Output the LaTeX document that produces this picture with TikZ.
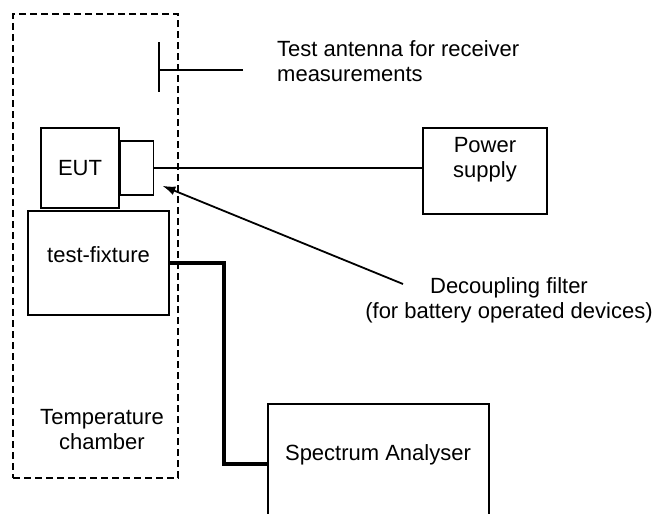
\documentclass[tikz,border=0pt]{standalone}
\usepackage{fontspec}
\setmainfont{Liberation Sans}
\usetikzlibrary{positioning,arrows.meta,calc}

\begin{document}
\begin{tikzpicture}[x=1pt,y=-1pt,
    box/.style={draw, line width=1.6pt, inner sep=0pt},
    txt/.style={align=center, inner sep=0pt},
    font=\fontsize{22}{25}\selectfont]

\useasboundingbox (0,0) rectangle (656,514);
\clip (0,0) rectangle (656,514);

% temperature chamber
\node[box, line width=1.2pt, dash pattern=on 7pt off 4pt,
    minimum width=165pt, minimum height=464pt] (chamber) at (95.5,246) {};
\node[txt] (chambertext) at (102,430) {Temperature\\chamber};

% antenna
\coordinate (anttop) at (159,42);
\coordinate (antbot) at (159,92);
\coordinate (antend) at (243,70);
\draw[line width=1.8pt] (anttop) -- (antbot);
\draw[line width=1.8pt] (antend) -- (antend -| anttop);
\node[txt, align=left, anchor=west] (antlabel) at (277,61) {Test antenna for receiver\\measurements};

% EUT with filter
\node[box, minimum width=78pt, minimum height=80pt] (eut) at (80,168) {EUT};
\node[box, minimum width=33pt, minimum height=54pt, anchor=west] (filter) at (eut.east) {};

% power supply
\node[box, minimum width=124pt, minimum height=86pt] (power) at (485,171) {};
\node[txt] (powertext) at (485,160) {Power\\supply};
\draw[line width=1.1pt] (filter.east) -- (filter.east -| power.west);

% test fixture
\node[box, minimum width=141pt, minimum height=104pt] (fixture) at (98.5,263) {};
\node[txt] (fixturetext) at (98.5,255) {test-fixture};

% spectrum analyser
\node[box, minimum width=221pt, minimum height=120pt] (analyser) at (378.5,464) {};
\node[txt] (analysertext) at (378,455) {Spectrum Analyser};
\draw[line width=4pt] (fixture.east) -- ++(54,0) |- (analyser.west);

% decoupling filter
\node[txt] (decoupling) at (509,300) {Decoupling filter\\(for battery operated devices)};
\coordinate (arrowstart) at (403,284);
\coordinate (arrowtip) at ($(filter.south east)+(8,-10)$);
\draw[line width=1.8pt, -{Latex[length=13pt,width=9pt]}] (arrowstart) -- (arrowtip);

\end{tikzpicture}
\end{document}
